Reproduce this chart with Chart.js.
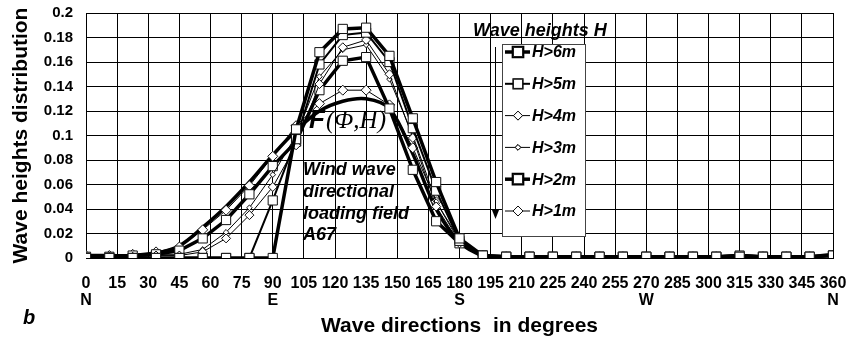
<!DOCTYPE html>
<html>
<head>
<meta charset="utf-8">
<script src="https://cdn.jsdelivr.net/npm/chart.js@4.4.1/dist/chart.umd.min.js"></script>
<style>
  html, body { margin: 0; padding: 0; background: #fff; }
  #wrap { width: 850px; height: 343px; }
</style>
</head>
<body>
<div id="wrap"><canvas id="waveChart" width="850" height="343"></canvas></div>
<script>
// wave directions (32 rhumbs, 11.25 deg apart)
const angles = [0, 11.25, 22.5, 33.75, 45, 56.25, 67.5, 78.75, 90, 101.25, 112.5, 123.75, 135, 146.25,
    157.5, 168.75, 180, 191.25, 202.5, 213.75, 225, 236.25, 247.5, 258.75, 270, 281.25, 292.5,
    303.75, 315, 326.25, 337.5, 348.75, 360];

// wave heights distribution per height class
const h6 = [0, 0, 0, 0, 0, 0, 0, 0, 0, 0.105, 0.168, 0.187, 0.188, 0.165, 0.114, 0.062, 0.016, 0.002,
    0.001, 0.001, 0.001, 0.001, 0.001, 0.001, 0.001, 0.001, 0.001, 0.001, 0.001, 0.001, 0.001, 0.001, 0.002];
const h5 = [0, 0, 0, 0, 0, 0, 0, 0, 0.047, 0.097, 0.158, 0.182, 0.184, 0.160, 0.106, 0.055, 0.014, 0.002,
    0.001, 0.001, 0.001, 0.001, 0.001, 0.001, 0.001, 0.001, 0.001, 0.001, 0.001, 0.001, 0.001, 0.001, 0.002];
const h4 = [0.001, 0.001, 0.001, 0.002, 0.002, 0.005, 0.016, 0.035, 0.058, 0.092, 0.142, 0.172, 0.178, 0.150, 0.098, 0.042, 0.012, 0.002,
    0.001, 0.001, 0.001, 0.001, 0.001, 0.001, 0.001, 0.001, 0.001, 0.001, 0.001, 0.001, 0.001, 0.001, 0.002];
const h3 = [0.001, 0.001, 0.002, 0.003, 0.003, 0.007, 0.021, 0.041, 0.068, 0.100, 0.148, 0.170, 0.174, 0.146, 0.100, 0.046, 0.013, 0.002,
    0.001, 0.001, 0.001, 0.001, 0.001, 0.001, 0.001, 0.001, 0.001, 0.001, 0.001, 0.001, 0.001, 0.001, 0.002];
const h2 = [0.001, 0.001, 0.002, 0.003, 0.006, 0.016, 0.031, 0.052, 0.075, 0.095, 0.137, 0.161, 0.164, 0.122, 0.072, 0.030, 0.012, 0.002,
    0.001, 0.001, 0.001, 0.001, 0.001, 0.001, 0.001, 0.001, 0.001, 0.001, 0.002, 0.001, 0.001, 0.001, 0.002];
const h1 = [0.002, 0.002, 0.003, 0.005, 0.009, 0.023, 0.039, 0.059, 0.083, 0.108, 0.126, 0.137, 0.137, 0.125, 0.090, 0.046, 0.015, 0.002,
    0.001, 0.001, 0.001, 0.001, 0.001, 0.001, 0.001, 0.001, 0.001, 0.001, 0.001, 0.001, 0.001, 0.001, 0.002];
// loading field F(phi,H) envelope
const field = [0.002, 0.002, 0.002, 0.004, 0.010, 0.025, 0.042, 0.062, 0.084, 0.104, 0.120, 0.128, 0.130, 0.122, 0.085, 0.040, 0.013, 0.002,
    0.001, 0.001, 0.001, 0.001, 0.001, 0.001, 0.001, 0.001, 0.001, 0.001, 0.002, 0.001, 0.001, 0.001, 0.003];

const seriesNames = ['H>6m', 'H>5m', 'H>4m', 'H>3m', 'H>2m', 'H>1m'];
const seriesData = [h6, h5, h4, h3, h2, h1];
const lineWidths = [3.5, 2, 1, 1, 3.5, 1];
const markerStyles = ['rect', 'rect', 'rectRot', 'rectRot', 'rect', 'rectRot'];
const markerSizes = [6.5, 6.5, 4.5, 2.8, 6.5, 5];

const xTicks = [0, 15, 30, 45, 60, 75, 90, 105, 120, 135, 150, 165, 180, 195, 210, 225, 240, 255, 270, 285, 300, 315, 330, 345, 360];
const compass = { 0: 'N', 90: 'E', 180: 'S', 270: 'W', 360: 'N' };

const boldFont = '"Liberation Sans", Arial, sans-serif';

function toPoints(values) {
    return angles.map((a, i) => ({ x: a, y: values[i] }));
}

const datasets = seriesNames.map((name, i) => ({
    label: name,
    data: toPoints(seriesData[i]),
    borderColor: '#000',
    borderWidth: lineWidths[i],
    pointStyle: markerStyles[i],
    pointRadius: markerSizes[i],
    pointBorderWidth: 1,
    pointBorderColor: '#111',
    pointBackgroundColor: '#fff',
    tension: 0,
    fill: false
}));

datasets.push({
    label: 'F',
    data: toPoints(field),
    borderColor: '#000',
    borderWidth: 3.5,
    pointRadius: 0,
    tension: 0.35,
    fill: false
});

// legend box, arrow and text notes drawn on top
const notesPlugin = {
    id: 'notes',
    afterDraw(chart) {
        const ctx = chart.ctx;
        ctx.save();

        // title of the legend
        ctx.fillStyle = '#000';
        ctx.font = 'italic bold 18px ' + boldFont;
        ctx.textBaseline = 'middle';
        ctx.textAlign = 'left';
        ctx.fillText('Wave heights H', 473, 31);

        // arrow
        ctx.strokeStyle = '#000';
        ctx.lineWidth = 1;
        ctx.beginPath();
        ctx.moveTo(495.5, 47);
        ctx.lineTo(495.5, 216);
        ctx.stroke();
        ctx.beginPath();
        ctx.moveTo(492, 210);
        ctx.lineTo(499, 210);
        ctx.lineTo(495.5, 219);
        ctx.closePath();
        ctx.fill();

        // legend box
        ctx.fillStyle = '#fff';
        ctx.fillRect(502.5, 44.5, 83, 192);
        ctx.strokeStyle = '#444';
        ctx.strokeRect(502.5, 44.5, 83, 192);

        for (let i = 0; i < seriesNames.length; i++) {
            const ds = chart.data.datasets[i];
            const y = 52 + i * 31.8;
            ctx.strokeStyle = '#000';
            ctx.lineWidth = ds.borderWidth;
            ctx.beginPath();
            ctx.moveTo(505, y);
            ctx.lineTo(530, y);
            ctx.stroke();
            Chart.helpers.drawPoint(ctx, {
                pointStyle: ds.pointStyle,
                radius: ds.pointRadius,
                rotation: 0,
                borderWidth: 1
            }, 518, y);
            ctx.lineWidth = 1;
            ctx.strokeStyle = '#111';
            ctx.fillStyle = '#fff';
            ctx.fill();
            ctx.stroke();
            ctx.fillStyle = '#000';
            ctx.font = 'italic bold 16px ' + boldFont;
            ctx.fillText(seriesNames[i], 532, y + 1);
        }

        // F(phi,H)
        ctx.fillStyle = '#000';
        ctx.font = 'italic bold 26px ' + boldFont;
        ctx.fillText('F', 309, 121);
        ctx.font = 'italic 25px "Liberation Serif", serif';
        ctx.fillText('(\u03A6,H)', 326, 121);

        // note
        ctx.font = 'italic bold 18px ' + boldFont;
        const note = ['Wind wave', 'directional', 'loading field', 'A67'];
        note.forEach((t, i) => ctx.fillText(t, 303, 170 + i * 21.8));

        // panel letter
        ctx.font = 'italic bold 20px ' + boldFont;
        ctx.fillText('b', 23, 318);
        ctx.restore();
    }
};

const ctx = document.getElementById('waveChart').getContext('2d');
new Chart(ctx, {
    type: 'line',
    data: { datasets: datasets },
    options: {
        responsive: false,
        animation: false,
        layout: { padding: { left: 0, right: 17, top: 13, bottom: 0 } },
        plugins: {
            legend: { display: false },
            tooltip: { enabled: false }
        },
        scales: {
            x: {
                type: 'linear',
                min: 0,
                max: 360,
                afterBuildTicks(scale) {
                    scale.ticks = xTicks.map(v => ({ value: v }));
                },
                afterFit(scale) { scale.height = 85; },
                ticks: {
                    autoSkip: false,
                    maxRotation: 0,
                    color: '#000',
                    padding: 1,
                    font: { family: boldFont, size: 16, weight: 'bold', lineHeight: 1.05 },
                    callback(v) {
                        return compass[v] ? [String(v), compass[v]] : String(v);
                    }
                },
                grid: { color: '#000', lineWidth: 1, tickLength: 16, tickColor: 'rgba(0,0,0,0)' },
                border: { color: '#000', width: 1 },
                title: {
                    display: true,
                    text: 'Wave directions  in degrees',
                    color: '#000',
                    font: { family: boldFont, size: 21, weight: 'bold', lineHeight: 1.2 },
                    padding: { top: 0, bottom: 4 }
                }
            },
            y: {
                min: 0,
                max: 0.2,
                afterFit(scale) { scale.width = 86; },
                ticks: {
                    stepSize: 0.02,
                    color: '#000',
                    padding: 1,
                    font: { family: boldFont, size: 15, weight: 'bold' },
                    callback(v) { return String(Number(v.toFixed(2))); }
                },
                grid: { color: '#000', lineWidth: 1, tickLength: 12, tickColor: 'rgba(0,0,0,0)' },
                border: { color: '#000', width: 1 },
                title: {
                    display: true,
                    text: 'Wave heights distribution',
                    color: '#000',
                    font: { family: boldFont, size: 21, weight: 'bold', lineHeight: 1.2 },
                    padding: { top: 9, bottom: 0 }
                }
            }
        }
    },
    plugins: [notesPlugin]
});
</script>
</body>
</html>
